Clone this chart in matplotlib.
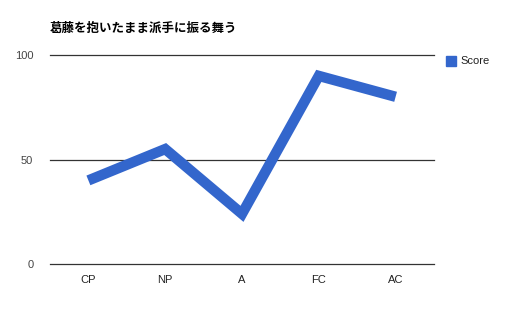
import matplotlib.pyplot as plt

categories = ["CP", "NP", "A", "FC", "AC"]
scores = [40, 55, 24, 90, 80]
yticks = [0, 50, 100]

plt.rcParams["font.family"] = ["Noto Sans CJK JP", "DejaVu Sans"]

fig = plt.figure(figsize=(5.14, 3.11), dpi=100)
ax = fig.add_axes([50 / 514, 47 / 311, 384 / 514, 209 / 311])

for y in yticks:
    ax.axhline(y, color="#333333", linewidth=0.9, zorder=1, clip_on=False)

x = range(len(categories))
ax.plot(x, scores, color="#3366cc", linewidth=7.5, solid_joinstyle="miter",
        solid_capstyle="butt", label="Score", zorder=2)

ax.set_xlim(-0.5, len(categories) - 0.5)
ax.set_ylim(0, 100)
ax.set_xticks(list(x))
ax.set_xticklabels(categories, fontsize=8, color="#222222",
                   family=["Liberation Sans", "DejaVu Sans"])
ax.set_yticks(yticks)
ax.set_yticklabels([str(v) for v in yticks], fontsize=8, color="#444444",
                   family=["Liberation Sans", "DejaVu Sans"])
ax.tick_params(length=0, pad=8)
ax.tick_params(axis="y", pad=12)
for s in ax.spines.values():
    s.set_visible(False)

fig.text(50 / 514, 1 - 28 / 311, "葛藤を抱いたまま派手に振る舞う", fontsize=9,
         fontweight="bold", va="center", ha="left")

# legend
fig.patches.append(plt.Rectangle((446 / 514, 1 - 66 / 311), 10 / 514, 10 / 311,
                                 transform=fig.transFigure, color="#3366cc"))
fig.text(460 / 514, 1 - 61 / 311, "Score", fontsize=8, va="center", ha="left",
         color="#222222", family=["Liberation Sans", "DejaVu Sans"])

fig.savefig("out.png", dpi=100)
